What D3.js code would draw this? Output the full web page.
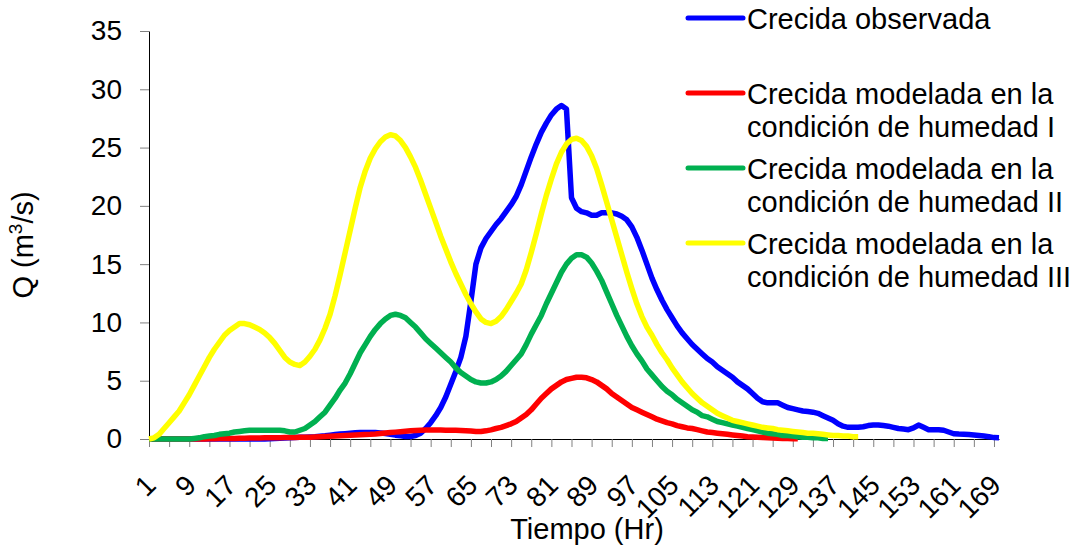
<!DOCTYPE html>
<html>
<head>
<meta charset="utf-8">
<script src="https://cdn.jsdelivr.net/npm/d3@7"></script>
<style>
  body { margin: 0; background: #fff; }
  svg text { font-family: "Liberation Sans", Arial, sans-serif; fill: #000; }
</style>
</head>
<body>
<div id="chart"></div>
<script>
// hourly discharge (m3/s), starting at hour 1
var observada = [
  0,0,0,0,0,0,0,0,0,0,
  0,0,0,0,0,0,0,0,0,0,
  0,0,0,0,.02,.04,.06,.08,.1,.12,
  .14,.16,.18,.2,.24,.28,.33,.38,.42,.46,
  .5,.53,.55,.56,.56,.55,.52,.47,.4,.33,
  .27,.22,.22,.3,.5,.9,1.4,2.0,2.7,3.6,
  4.7,5.8,7.0,8.8,11.8,15.0,16.4,17.2,17.8,18.4,
  18.9,19.5,20.1,20.8,21.8,23.0,24.2,25.3,26.3,27.1,
  27.8,28.3,28.6,28.3,20.7,19.8,19.5,19.4,19.2,19.2,
  19.4,19.4,19.4,19.3,19.1,18.8,18.2,17.3,16.2,15.0,
  13.8,12.8,11.9,11.1,10.4,9.7,9.1,8.6,8.1,7.7,
  7.3,6.9,6.6,6.2,5.9,5.6,5.3,4.9,4.6,4.3,
  3.9,3.5,3.2,3.1,3.1,3.1,2.9,2.7,2.6,2.5,
  2.4,2.35,2.3,2.2,2.0,1.8,1.6,1.3,1.1,1.0,
  1.0,1.0,1.05,1.15,1.2,1.2,1.15,1.1,1.0,0.9,
  .85,.8,.95,1.2,1.0,.8,.8,.8,.75,.6,
  .45,.42,.4,.38,.35,.3,.25,.2,.12,.1
];
var humedadI = [
  0,0,0,0,0,0,0,0,0,0,
  0,0,.02,.03,.04,.05,.05,.05,.06,.07,
  .08,.08,.09,.1,.1,.1,.11,.12,.12,.13,
  .14,.15,.16,.18,.2,.22,.24,.26,.28,.3,
  .32,.34,.36,.38,.4,.43,.47,.51,.55,.59,
  .63,.67,.7,.73,.75,.77,.78,.78,.77,.76,
  .75,.74,.73,.71,.68,.64,.64,.7,.78,.9,
  1.0,1.15,1.3,1.5,1.8,2.1,2.5,3.0,3.5,3.9,
  4.3,4.6,4.9,5.1,5.2,5.3,5.3,5.25,5.1,4.9,
  4.6,4.3,3.9,3.6,3.3,3.0,2.7,2.5,2.3,2.1,
  1.9,1.7,1.55,1.4,1.3,1.15,1.05,.95,.9,.8,
  .7,.6,.55,.5,.45,.4,.35,.3,.25,.2,
  .18,.15,.12,.1,.08,.06,.05,.04,.03,.02
];
var humedadII = [
  0,0,0,0,0,0,0,0,0,.05,
  .1,.2,.25,.3,.4,.45,.5,.6,.65,.7,
  .75,.75,.75,.75,.75,.75,.75,.7,.6,.6,
  .75,.9,1.2,1.5,1.9,2.3,2.9,3.5,4.2,4.8,
  5.6,6.5,7.4,8.1,8.8,9.4,9.9,10.3,10.6,10.7,
  10.6,10.4,10.0,9.6,9.1,8.6,8.2,7.8,7.4,7.0,
  6.6,6.1,5.7,5.4,5.1,4.9,4.8,4.8,4.9,5.1,
  5.4,5.8,6.3,6.8,7.3,8.1,9.0,9.8,10.6,11.6,
  12.5,13.4,14.3,15.0,15.5,15.8,15.8,15.6,15.1,14.4,
  13.6,12.6,11.6,10.6,9.7,8.8,8.0,7.3,6.7,6.0,
  5.5,5.0,4.5,4.1,3.8,3.4,3.1,2.8,2.5,2.3,
  2.0,1.9,1.7,1.5,1.4,1.3,1.2,1.1,1.0,.9,
  .8,.7,.6,.5,.45,.4,.3,.3,.25,.2,
  .15,.15,.1,.1,.05,.05
];
var humedadIII = [
  0,.1,.4,.9,1.4,1.9,2.4,3.1,3.8,4.6,
  5.4,6.2,7.0,7.7,8.3,8.9,9.3,9.6,9.9,9.9,
  9.8,9.6,9.4,9.1,8.7,8.2,7.6,7.0,6.6,6.4,
  6.3,6.6,7.1,7.7,8.5,9.5,10.7,12.3,14.1,16.0,
  17.9,19.8,21.6,23.0,24.1,24.9,25.5,25.9,26.1,26.0,
  25.6,25.0,24.2,23.3,22.2,21.0,19.8,18.6,17.4,16.3,
  15.2,14.2,13.3,12.4,11.6,10.9,10.3,10.0,9.9,10.1,
  10.5,11.1,11.8,12.5,13.3,14.5,16.0,17.6,19.3,20.9,
  22.3,23.6,24.6,25.3,25.7,25.8,25.6,25.1,24.3,23.2,
  21.8,20.3,18.8,17.3,15.8,14.3,12.9,11.6,10.5,9.6,
  8.9,8.1,7.4,6.8,6.1,5.5,4.9,4.4,3.9,3.5,
  3.1,2.8,2.5,2.2,2.0,1.8,1.6,1.5,1.4,1.3,
  1.2,1.1,1.0,.95,.9,.8,.75,.7,.65,.6,
  .55,.5,.5,.45,.4,.35,.3,.3,.25,.25,
  .2,.2
];

var nHours = 170;
var tickMarks = d3.range(1, nHours + 1, 4);
var tickLabels = [1,9,17,25,33,41,49,57,65,73,81,89,97,105,113,121,129,137,145,153,161,169];
var yTicks = [0,5,10,15,20,25,30,35];

var seriesNames = [
  ["Crecida observada"],
  ["Crecida modelada en la", "condición de humedad I"],
  ["Crecida modelada en la", "condición de humedad II"],
  ["Crecida modelada en la", "condición de humedad III"]
];
var seriesValues = [observada, humedadI, humedadII, humedadIII];
var seriesColors = ["#0000ff", "#ff0000", "#00b050", "#ffff00"];

var svgWidth = 1081;
var svgHeight = 550;
var margin = { top: 31, left: 149 };
var plotW = 850, plotH = 408;

var svg = d3.select("#chart").append("svg")
  .attr("width", svgWidth)
  .attr("height", svgHeight);

var chartGroup = svg.append("g")
  .attr("transform", `translate(${margin.left}, ${margin.top})`);

var x = d3.scaleLinear().domain([1, nHours]).range([0, plotW]);
var y = d3.scaleLinear().domain([0, 35]).range([plotH, 0]);

// y axis
var leftAxis = d3.axisLeft(y).tickValues(yTicks).tickSize(9).tickSizeOuter(0).tickPadding(18);
var gy = chartGroup.append("g").call(leftAxis);
gy.select(".domain").attr("stroke", "#000");
gy.selectAll(".tick line").attr("stroke", "#808080");
gy.selectAll(".tick text").style("font-size", "28px").attr("fill", "#000");

// x axis
var bottomAxis = d3.axisBottom(x).tickValues(tickMarks).tickSize(8).tickSizeOuter(0)
  .tickFormat(d => tickLabels.indexOf(d) >= 0 ? d : "");
var gx = chartGroup.append("g")
  .attr("transform", `translate(0, ${plotH})`)
  .call(bottomAxis);
gx.select(".domain").attr("stroke", "#000");
gx.selectAll(".tick line").attr("stroke", "#808080");
gx.selectAll(".tick text")
  .style("font-size", "28px")
  .attr("fill", "#000")
  .attr("text-anchor", "end")
  .attr("y", 0)
  .attr("dy", "0.35em")
  .attr("transform", "translate(1, 41) rotate(-45)");

// lines
var line = d3.line()
  .x((d, i) => x(i + 1))
  .y(d => y(d));

seriesValues.forEach(function(vals, k) {
  chartGroup.append("path")
    .datum(vals)
    .attr("fill", "none")
    .attr("stroke", seriesColors[k])
    .attr("stroke-width", 5.5)
    .attr("stroke-linejoin", "round")
    .attr("d", line);
});

// axis titles
svg.append("text")
  .attr("x", 587)
  .attr("y", 539)
  .attr("text-anchor", "middle")
  .style("font-size", "29px")
  .text("Tiempo (Hr)");

var yTitle = svg.append("text")
  .attr("transform", "translate(33, 245) rotate(-90)")
  .attr("text-anchor", "middle")
  .style("font-size", "29px");
yTitle.append("tspan").text("Q (m");
yTitle.append("tspan").attr("dy", -11).style("font-size", "19px").text("3");
yTitle.append("tspan").attr("dy", 11).text("/s)");

// legend
var legend = svg.append("g");
seriesNames.forEach(function(lines, k) {
  var ly = 18 + k * 75;
  legend.append("line")
    .attr("x1", 688).attr("x2", 743)
    .attr("y1", ly).attr("y2", ly)
    .attr("stroke", seriesColors[k])
    .attr("stroke-width", 5)
    .attr("stroke-linecap", "round");
  lines.forEach(function(t, j) {
    legend.append("text")
      .attr("x", 747)
      .attr("y", ly + 10.5 + j * 33.4)
      .style("font-size", "29px")
      .text(t);
  });
});
</script>
</body>
</html>
